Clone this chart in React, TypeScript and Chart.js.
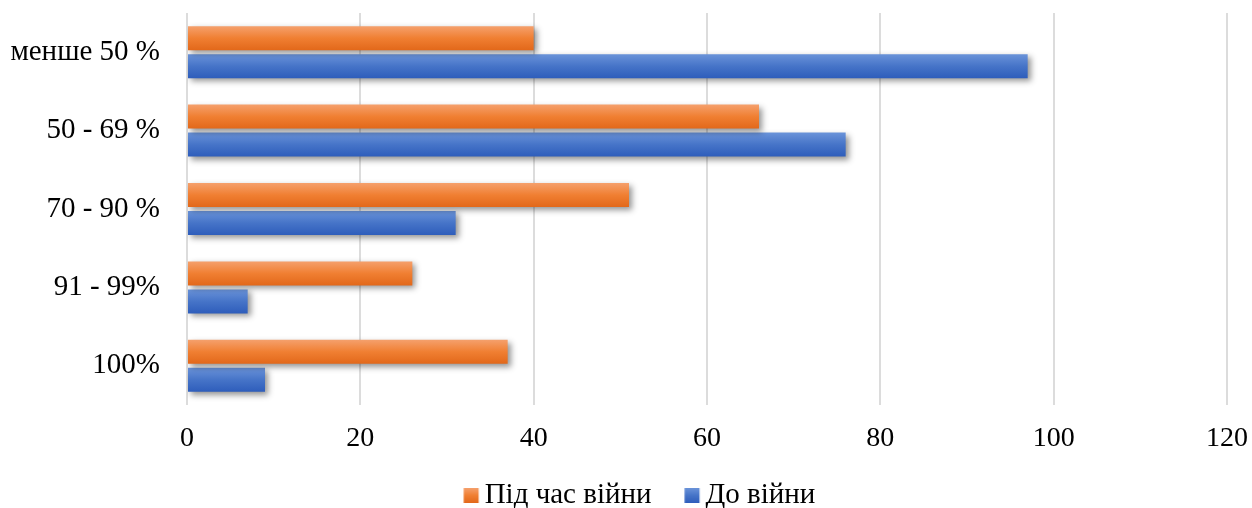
import React, { useEffect, useRef } from "react";
import { Chart, registerables } from "chart.js";

Chart.register(...registerables);

// Share groups, top to bottom
const categories = ["менше 50 %", "50 - 69 %", "70 - 90 %", "91 - 99%", "100%"];
// Counts during the war
const duringWar = [40, 66, 51, 26, 37];
// Counts before the war
const beforeWar = [97, 76, 31, 7, 9];
// Value axis ticks
const xMin = 0;
const xMax = 120;
const xStep = 20;

const seriesNames = ["Під час війни", "До війни"];

const FONT = "'Liberation Serif', 'Times New Roman', serif";

// Vertical three-stop gradients for each series (light top, darker bottom)
const palettes = [
  ["#f5a06c", "#f07f32", "#e2681a"],
  ["#6a93d9", "#4674c8", "#2e5dbb"],
];

// Legend item geometry: a reserved slot in front of the text, with the
// 15px swatch sitting at its right end, just before the label
const LEGEND_SLOT = 39.5;
const SWATCH = 15;
const SWATCH_GAP_LEFT = 33; // empty space before the swatch (spacing between items)

function fillGradient(ctx: CanvasRenderingContext2D, top: number, bottom: number, stops: string[]) {
  const g = ctx.createLinearGradient(0, top, 0, bottom);
  g.addColorStop(0, stops[0]);
  g.addColorStop(0.5, stops[1]);
  g.addColorStop(1, stops[2]);
  return g;
}

// The image is drawn centred on the slot's middle, so it is made wide enough
// to reach the swatch position
function makeSwatch(stops: string[]) {
  const c = document.createElement("canvas");
  const half = 30;
  c.width = half * 2;
  c.height = SWATCH;
  const x = c.getContext("2d")!;
  const left = half - LEGEND_SLOT / 2 + SWATCH_GAP_LEFT;
  x.fillStyle = fillGradient(x, 0, SWATCH, stops);
  x.fillRect(left, 0, SWATCH, SWATCH);
  return c;
}

// Per-bar gradient fill plus a soft drop shadow under the bars
const barStyling = {
  id: "barStyling",
  beforeDatasetsDraw(chart: any) {
    const ctx = chart.ctx as CanvasRenderingContext2D;
    chart.data.datasets.forEach((_: any, di: number) => {
      const meta = chart.getDatasetMeta(di);
      meta.data.forEach((el: any) => {
        const { y, height } = el.getProps(["y", "height"], true);
        const top = y - height / 2;
        el.options = { ...el.options, backgroundColor: fillGradient(ctx, top, top + height, palettes[di]) };
      });
    });
    ctx.save();
    ctx.shadowColor = "rgba(0,0,0,0.42)";
    ctx.shadowBlur = 6;
    ctx.shadowOffsetX = 3;
    ctx.shadowOffsetY = 3;
  },
  afterDatasetsDraw(chart: any) {
    chart.ctx.restore();
  },
};

// Move the legend row down below the axis labels
const legendOffset = {
  id: "legendOffset",
  afterLayout(chart: any) {
    const lg = chart.legend;
    if (!lg) return;
    lg.left -= 3;
    lg.right -= 3;
    lg.top += 12;
    lg.bottom += 12;
  },
};

export default function App() {
  const ref = useRef<HTMLCanvasElement | null>(null);

  useEffect(() => {
    if (!ref.current) return;
    const swatches = palettes.map(makeSwatch);
    const chart = new Chart(ref.current, {
      type: "bar",
      data: {
        labels: categories,
        datasets: [
          { label: seriesNames[0], data: duringWar, backgroundColor: palettes[0][1], borderWidth: 0 },
          { label: seriesNames[1], data: beforeWar, backgroundColor: palettes[1][1], borderWidth: 0 },
        ],
      },
      options: {
        indexAxis: "y",
        animation: false,
        responsive: true,
        maintainAspectRatio: false,
        categoryPercentage: 0.714,
        barPercentage: 0.857,
        layout: { padding: { top: 13, right: 0, bottom: 0, left: 0 } },
        scales: {
          x: {
            min: xMin,
            max: xMax,
            border: { display: false },
            grid: { color: "#dcdcdc", lineWidth: 2, drawTicks: false },
            ticks: {
              stepSize: xStep,
              padding: 17,
              color: "#000",
              font: { family: FONT, size: 28 },
            },
            afterFit(scale: any) {
              scale.height = 64;
              scale.paddingLeft = 0;
              scale.paddingRight = 25;
            },
          },
          y: {
            border: { display: false },
            grid: { display: false, drawTicks: false },
            ticks: {
              padding: 27,
              color: "#000",
              font: { family: FONT, size: 29 },
            },
            afterFit(scale: any) {
              scale.width = 187;
              scale.paddingTop = 0;
              scale.paddingBottom = 0;
            },
          },
        },
        plugins: {
          tooltip: { enabled: false },
          legend: {
            position: "bottom",
            labels: {
              usePointStyle: true,
              pointStyleWidth: LEGEND_SLOT,
              boxWidth: LEGEND_SLOT,
              boxHeight: SWATCH,
              padding: 0,
              color: "#000",
              font: { family: FONT, size: 29 },
              generateLabels: () =>
                seriesNames.map((name, i) => ({
                  text: name,
                  pointStyle: swatches[i],
                  fillStyle: palettes[i][1],
                  strokeStyle: "transparent",
                  lineWidth: 0,
                  hidden: false,
                  datasetIndex: i,
                  fontColor: "#000",
                })),
            },
          },
        },
      },
      plugins: [barStyling, legendOffset],
    });
    return () => chart.destroy();
  }, []);

  return (
    <div style={{ position: "absolute", left: 0, top: 0, width: 1252, height: 508 }}>
      <canvas ref={ref} />
    </div>
  );
}
